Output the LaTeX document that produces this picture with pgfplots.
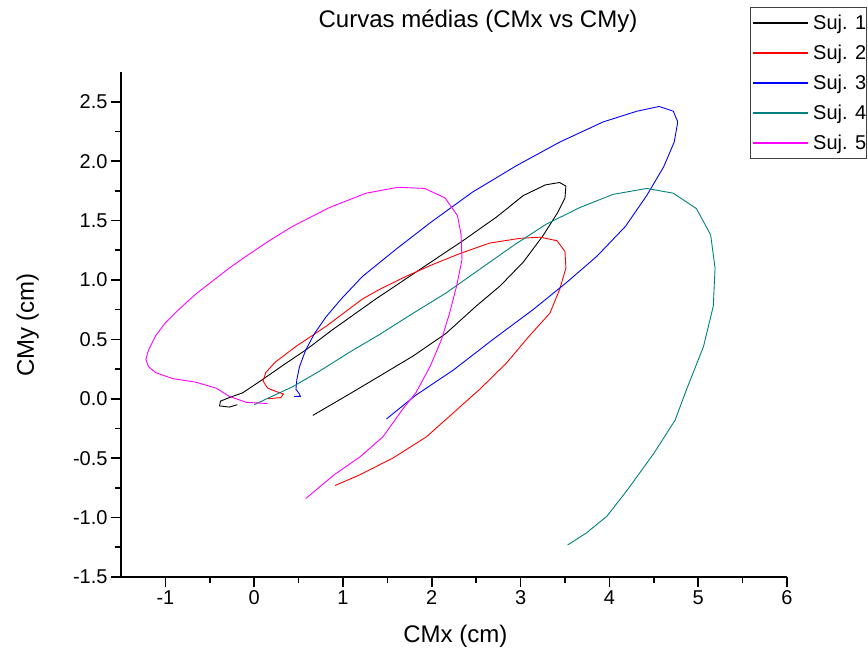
\documentclass[border=0pt]{standalone}
\usepackage{fontspec}
\setmainfont{Liberation Sans}
\usepackage{pgfplots}
\pgfplotsset{compat=1.18}
\definecolor{cteal}{RGB}{0,128,128}
\definecolor{cmag}{RGB}{255,0,255}
\definecolor{cred}{RGB}{255,0,0}
\definecolor{cblue}{RGB}{0,0,255}
\begin{document}
\begin{tikzpicture}
\useasboundingbox (-121pt,-82pt) rectangle (747pt,577pt);
% legend lines first
\draw[black!75, line width=0.9pt] (629pt,419pt) rectangle (745pt,570pt);
\draw[black, line width=1.6pt] (632pt,554pt) -- (687pt,554pt);
\draw[cred, line width=1.6pt] (632pt,524pt) -- (687pt,524pt);
\draw[cblue, line width=1.6pt] (632pt,494pt) -- (687pt,494pt);
\draw[cteal, line width=1.6pt] (632pt,464pt) -- (687pt,464pt);
\draw[cmag, line width=1.6pt] (632pt,434pt) -- (687pt,434pt);
\begin{axis}[
  scale only axis, width=666pt, height=505pt,
  at={(0pt,0pt)}, anchor=south west,
  xmin=-1.5, xmax=6, ymin=-1.5, ymax=2.75,
  axis lines*=left,
  axis line style={line width=1.6pt, -},
  xtick={-1,0,...,6},
  minor xtick={-0.5,0.5,1.5,2.5,3.5,4.5,5.5},
  ytick={-1.5,-1,...,2.5},
  minor ytick={-1.25,-0.75,-0.25,0.25,0.75,1.25,1.75,2.25},
  tick align=outside,
  major tick length=10pt, minor tick length=6pt,
  every tick/.style={line width=1.6pt, black},
  /pgf/number format/assume math mode=true,
  ticklabel style={font=\fontsize{20}{24}\selectfont},
  yticklabel style={/pgf/number format/.cd, fixed, fixed zerofill, precision=1},
  xticklabel style={/pgf/number format/.cd, fixed, precision=1},
  title={Curvas médias (CMx vs CMy)},
  title style={font=\fontsize{24}{28}\selectfont, at={(axis description cs:0.536,1.089)}, anchor=center},
  xlabel={CMx (cm)},
  xlabel style={font=\fontsize{24}{28}\selectfont, at={(axis description cs:0.502,-0.117)}, anchor=center},
  ylabel={CMy (cm)},
  ylabel style={font=\fontsize{24}{28}\selectfont, at={(axis description cs:-0.140,0.499)}, anchor=center, rotate=0},
  every axis plot/.append style={line width=0.9pt},
]
\addplot[black] coordinates {
(-0.19,-0.05) (-0.28,-0.07) (-0.39,-0.06) (-0.38,-0.02) (-0.28,0.01) (-0.13,0.05)
(0.09,0.16) (0.36,0.30) (0.58,0.41) (0.88,0.58) (1.37,0.84) (1.79,1.05) (2.35,1.33)
(2.73,1.53) (3.03,1.71) (3.28,1.80) (3.44,1.82) (3.51,1.79) (3.50,1.69) (3.42,1.57)
(3.25,1.37) (3.03,1.15) (2.77,0.95) (2.50,0.78) (2.16,0.55) (1.79,0.36) (1.41,0.19)
(1.05,0.03) (0.66,-0.14)
};
\addplot[cred] coordinates {
(0.15,0.00) (0.30,0.01) (0.33,0.04) (0.25,0.06) (0.15,0.09) (0.10,0.15) (0.13,0.22)
(0.24,0.31) (0.47,0.44) (0.81,0.61) (1.22,0.84) (1.41,0.92) (1.71,1.03) (2.01,1.13)
(2.31,1.22) (2.65,1.31) (2.99,1.35) (3.22,1.36) (3.41,1.33) (3.50,1.24) (3.51,1.10)
(3.44,0.92) (3.33,0.72) (3.10,0.53) (2.84,0.30) (2.54,0.08) (2.24,-0.12) (1.94,-0.32)
(1.56,-0.50) (1.19,-0.64) (0.91,-0.73)
};
\addplot[cblue] coordinates {
(0.45,0.02) (0.52,0.02) (0.51,0.04) (0.47,0.08) (0.48,0.16) (0.51,0.27) (0.58,0.41)
(0.68,0.55) (0.81,0.69) (0.98,0.84) (1.22,1.03) (1.60,1.26) (1.98,1.48) (2.46,1.74)
(2.95,1.96) (3.44,2.16) (3.93,2.33) (4.31,2.42) (4.56,2.46) (4.72,2.42) (4.77,2.33)
(4.73,2.16) (4.61,1.95) (4.42,1.71) (4.18,1.45) (3.86,1.20) (3.52,0.98) (3.14,0.75)
(2.69,0.50) (2.24,0.24) (1.82,0.03) (1.49,-0.17)
};
\addplot[cteal] coordinates {
(0.00,-0.05) (0.17,0.01) (0.43,0.10) (0.73,0.23) (1.07,0.39) (1.41,0.54) (1.79,0.72)
(2.16,0.89) (2.54,1.09) (2.92,1.29) (3.29,1.47) (3.67,1.61) (4.04,1.72) (4.42,1.77)
(4.72,1.73) (4.98,1.60) (5.14,1.38) (5.19,1.10) (5.17,0.78) (5.06,0.44) (4.87,0.08)
(4.74,-0.18) (4.50,-0.46) (4.20,-0.77) (3.97,-0.99) (3.74,-1.13) (3.53,-1.23)
};
\addplot[cmag] coordinates {
(0.15,-0.04) (-0.09,-0.03) (-0.28,0.02) (-0.43,0.09) (-0.66,0.14) (-0.92,0.17)
(-1.11,0.22) (-1.19,0.27) (-1.22,0.33) (-1.19,0.41) (-1.11,0.53) (-1.00,0.64)
(-0.85,0.75) (-0.66,0.88) (-0.47,0.99) (-0.28,1.10) (-0.09,1.20) (0.17,1.33)
(0.43,1.45) (0.85,1.61) (1.26,1.73) (1.62,1.78) (1.92,1.77) (2.15,1.69) (2.29,1.54)
(2.33,1.38) (2.34,1.17) (2.28,0.95) (2.20,0.72) (2.11,0.50) (1.98,0.27) (1.82,0.05)
(1.67,-0.09) (1.45,-0.32) (1.19,-0.49) (0.90,-0.64) (0.58,-0.84)
};
\end{axis}
\node[anchor=base west, inner sep=0pt, font=\fontsize{20}{24}\selectfont] at (692pt,547pt) {Suj. 1};
\node[anchor=base west, inner sep=0pt, font=\fontsize{20}{24}\selectfont] at (692pt,517pt) {Suj. 2};
\node[anchor=base west, inner sep=0pt, font=\fontsize{20}{24}\selectfont] at (692pt,487pt) {Suj. 3};
\node[anchor=base west, inner sep=0pt, font=\fontsize{20}{24}\selectfont] at (692pt,457pt) {Suj. 4};
\node[anchor=base west, inner sep=0pt, font=\fontsize{20}{24}\selectfont] at (692pt,427pt) {Suj. 5};
\end{tikzpicture}
\end{document}
